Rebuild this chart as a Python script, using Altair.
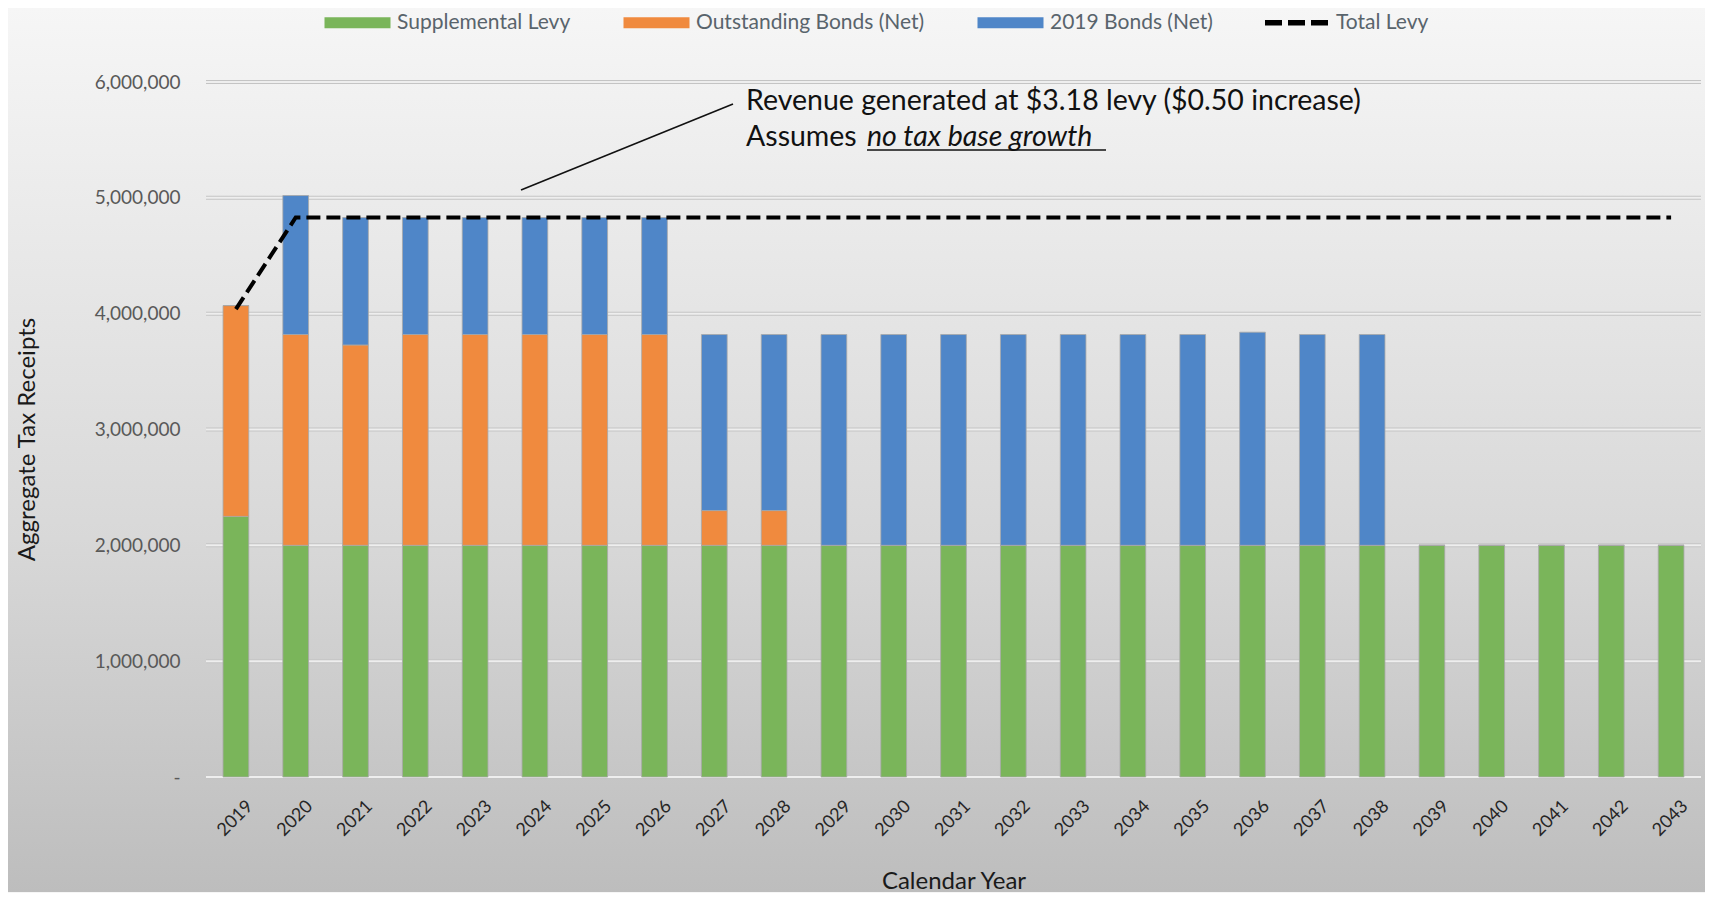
import altair as alt
import pandas as pd

# ---------------- data ----------------
years = [2019, 2020, 2021, 2022, 2023, 2024, 2025, 2026, 2027, 2028,
         2029, 2030, 2031, 2032, 2033, 2034, 2035, 2036, 2037, 2038,
         2039, 2040, 2041, 2042, 2043]

supplemental_levy = [2250000, 2000000, 2000000, 2000000, 2000000, 2000000, 2000000, 2000000, 2000000, 2000000,
                     2000000, 2000000, 2000000, 2000000, 2000000, 2000000, 2000000, 2000000, 2000000, 2000000,
                     2000000, 2000000, 2000000, 2000000, 2000000]

outstanding_bonds = [1820000, 1820000, 1730000, 1820000, 1820000, 1820000, 1820000, 1820000, 300000, 300000,
                     0, 0, 0, 0, 0, 0, 0, 0, 0, 0,
                     0, 0, 0, 0, 0]

bonds_2019 = [0, 1200000, 1100000, 1010000, 1010000, 1010000, 1010000, 1010000, 1520000, 1520000,
              1820000, 1820000, 1820000, 1820000, 1820000, 1820000, 1820000, 1840000, 1820000, 1820000,
              0, 0, 0, 0, 0]

total_levy = [4040000, 4830000, 4830000, 4830000, 4830000, 4830000, 4830000, 4830000, 4830000, 4830000,
              4830000, 4830000, 4830000, 4830000, 4830000, 4830000, 4830000, 4830000, 4830000, 4830000,
              4830000, 4830000, 4830000, 4830000, 4830000]

series_names = ["Supplemental Levy", "Outstanding Bonds (Net)", "2019 Bonds (Net)", "Total Levy"]
series_colors = ["#7ab55a", "#f08a3e", "#4f86c8", "#000000"]

y_ticks = [0, 1000000, 2000000, 3000000, 4000000, 5000000, 6000000]

annotation_line1 = "Revenue generated at $3.18 levy ($0.50 increase)"
annotation_line2a = "Assumes "
annotation_line2b = "no tax base growth"

# ---------------- tables ----------------
rows = []
for i, y in enumerate(years):
    rows.append({"year": y, "series": series_names[0], "value": supplemental_levy[i], "order": 0})
    rows.append({"year": y, "series": series_names[1], "value": outstanding_bonds[i], "order": 1})
    rows.append({"year": y, "series": series_names[2], "value": bonds_2019[i], "order": 2})
df_bars = pd.DataFrame(rows)
df_line = pd.DataFrame({"year": years, "total": total_levy})
df_grid = pd.DataFrame({"v": y_ticks})

W = 1495
H = 695
FONT = "Lato"
YTITLE = "Aggregate Tax Receipts"
XTITLE = "Calendar Year"

x_axis = alt.Axis(labelAngle=-45, labelFontSize=18, labelColor="#262626", labelFont=FONT,
                  domain=False, ticks=False, labelPadding=20, labelOffset=8,
                  title=XTITLE, titleFontSize=24, titleColor="#1a1a1a", titleFont=FONT,
                  titleFontWeight="normal", titleY=104, titleBaseline="middle", zindex=1)
y_axis = alt.Axis(values=y_ticks, labelExpr="datum.value == 0 ? '-' : format(datum.value, ',')",
                  grid=False, domain=False, ticks=False, labelPadding=26, labelFontSize=19,
                  labelColor="#595959", labelFont=FONT,
                  title=YTITLE, titleFontSize=24, titleColor="#1a1a1a", titleFont=FONT,
                  titleFontWeight="normal", titleX=-179, titleY=357, titleAngle=-90,
                  titleAlign="center", titleBaseline="middle", zindex=1)

x_scale = alt.Scale(paddingInner=0.57, paddingOuter=0.285)
y_scale = alt.Scale(domain=[0, 6000000])

rect_path = "M-3.3,-0.55H3.3V0.55H-3.3Z"
dash_path = ("M-3.15,-0.27H-1.45V0.27H-3.15Z M-0.85,-0.27H0.85V0.27H-0.85Z "
             "M1.45,-0.27H3.15V0.27H1.45Z")

legend = alt.Legend(orient="none", legendX=141, legendY=-70, direction="horizontal", title=None,
                    symbolType={"expr": f"datum.value == 'Total Levy' ? '{dash_path}' : '{rect_path}'"},
                    symbolSize=400, symbolStrokeWidth=0, symbolOpacity=1,
                    labelFontSize=21, labelColor="#59646c", labelFont=FONT, labelLimit=400,
                    columnPadding=52, labelOffset=29)

color = alt.Color("series:N", scale=alt.Scale(domain=series_names, range=series_colors),
                  legend=legend)

# background gradient
bg = alt.Chart(pd.DataFrame({"k": [0]})).mark_rect(
    fill=alt.Gradient(gradient="linear", x1=0, y1=0, x2=0, y2=1,
                      stops=[alt.GradientStop(color="#f6f6f6", offset=0),
                             alt.GradientStop(color="#d8d8d8", offset=0.6),
                             alt.GradientStop(color="#bdbdbd", offset=1)])
).encode(x=alt.value(-198), x2=alt.value(W + 4), y=alt.value(-74), y2=alt.value(810))

grid_outer = alt.Chart(df_grid).mark_rule(color="#c4c4c4", strokeWidth=4).encode(
    y=alt.Y("v:Q", scale=y_scale, axis=y_axis), x=alt.value(0), x2=alt.value(W))
grid_inner = alt.Chart(df_grid).mark_rule(color="#eeeeee", strokeWidth=2).encode(
    y=alt.Y("v:Q", scale=y_scale, axis=y_axis), x=alt.value(0), x2=alt.value(W))

bars = alt.Chart(df_bars).mark_bar(stroke="#a8a8a8", strokeWidth=0.8).encode(
    x=alt.X("year:O", scale=x_scale, axis=x_axis),
    y=alt.Y("value:Q", stack="zero", scale=y_scale, axis=y_axis),
    color=color,
    order=alt.Order("order:Q"),
)

line = alt.Chart(df_line).mark_line(strokeWidth=4, strokeDash=[14, 6], strokeCap="butt").encode(
    x=alt.X("year:O", scale=x_scale, axis=x_axis),
    y=alt.Y("total:Q", scale=y_scale, axis=y_axis),
    color=alt.datum("Total Levy"),
)

ann_df = pd.DataFrame({"k": [0]})
t1 = alt.Chart(ann_df).mark_text(text=annotation_line1, align="left", baseline="middle",
                                 font=FONT, fontSize=28.5, color="#111111").encode(
    x=alt.value(540), y=alt.value(19))
t2a = alt.Chart(ann_df).mark_text(text=annotation_line2a, align="left", baseline="middle",
                                  font=FONT, fontSize=28.5, color="#111111").encode(
    x=alt.value(540), y=alt.value(55))
t2b = alt.Chart(ann_df).mark_text(text=annotation_line2b, align="left", baseline="middle",
                                  font=FONT, fontSize=28.5, fontStyle="italic", color="#111111").encode(
    x=alt.value(661), y=alt.value(55))
underline = alt.Chart(ann_df).mark_rule(color="#111111", strokeWidth=1.6).encode(
    x=alt.value(661), x2=alt.value(900), y=alt.value(68), y2=alt.value(68))
leader = alt.Chart(ann_df).mark_rule(color="#111111", strokeWidth=1.6).encode(
    x=alt.value(527), x2=alt.value(315), y=alt.value(22), y2=alt.value(108))

chart = alt.layer(bg, grid_outer, grid_inner, bars, line, t1, t2a, t2b, underline, leader).properties(
    width=W, height=H, padding=0
).configure_view(stroke=None).configure(background="#f6f6f6")

chart.save("out.html", embed_options={"renderer": "svg", "actions": False})
